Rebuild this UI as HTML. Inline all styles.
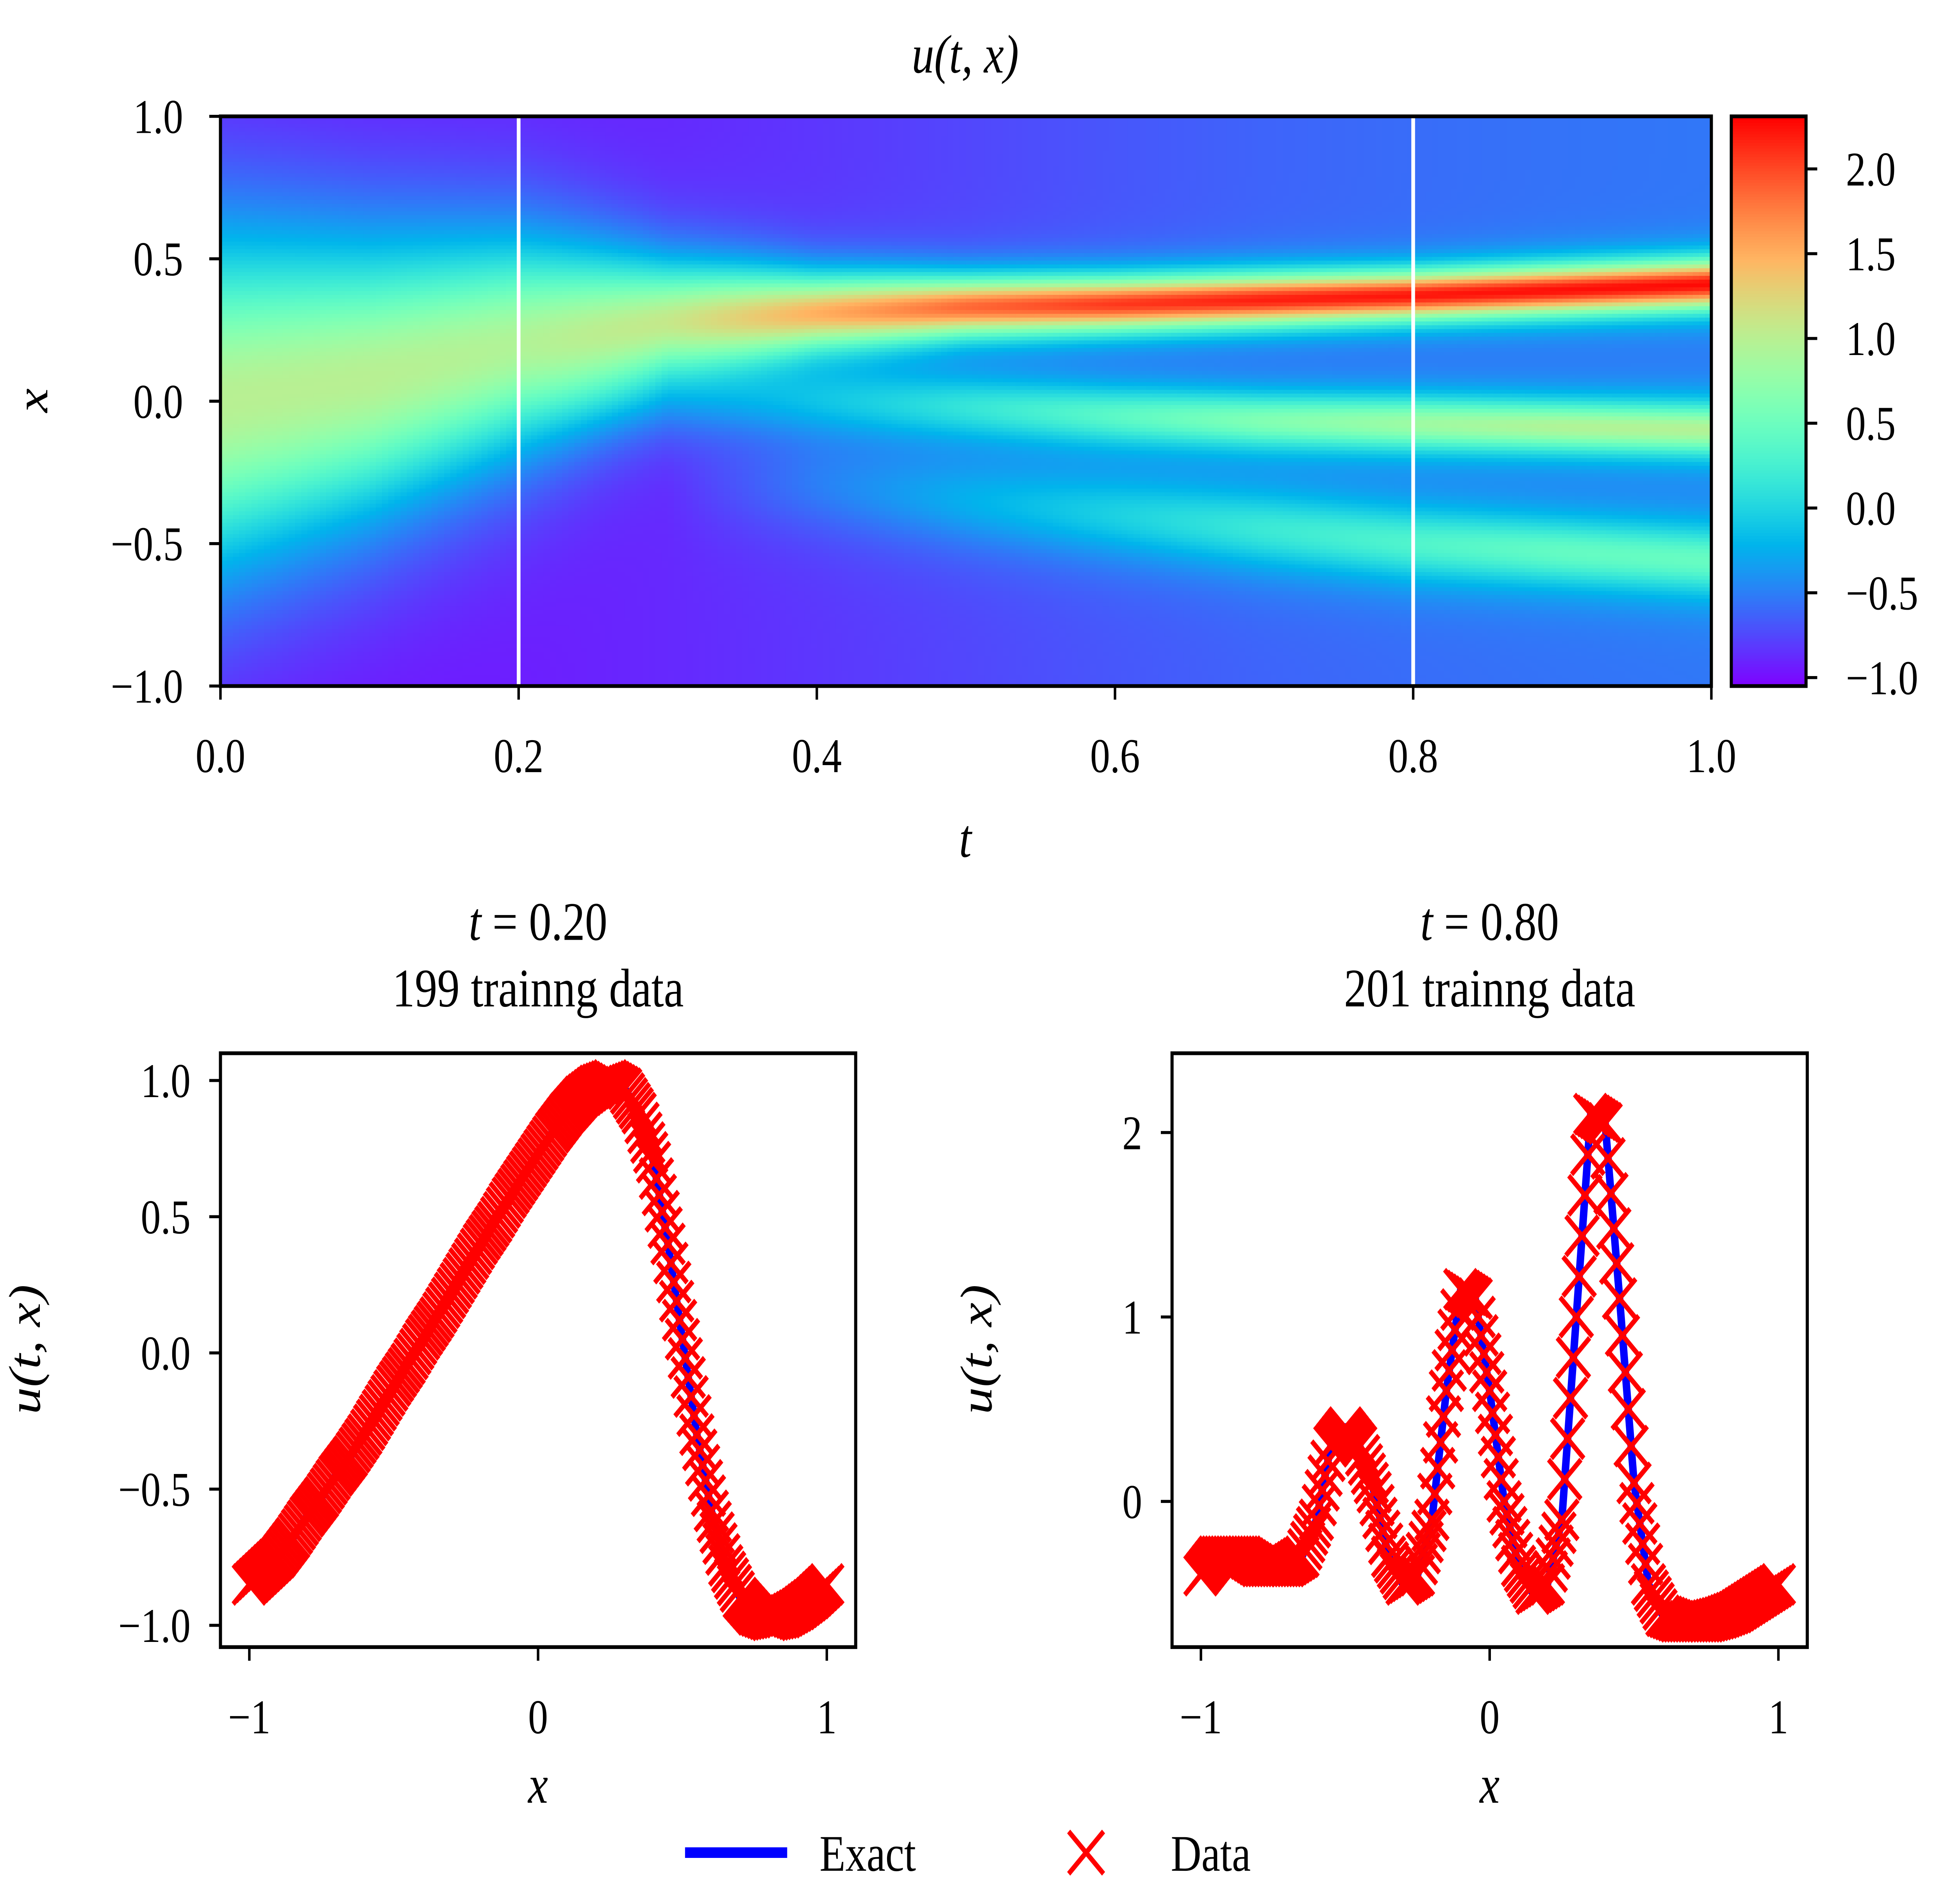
<!DOCTYPE html>
<html><head><meta charset="utf-8"><style>
html,body{margin:0;padding:0;background:#fff;overflow:hidden;width:100%;height:100%;}
svg{display:block;width:100%;height:100%;}
text{font-family:"Liberation Serif",serif;fill:#000;}
</style></head><body>
<svg id="fig" xmlns="http://www.w3.org/2000/svg" width="100%" height="100%" viewBox="0 0 1568 1260" preserveAspectRatio="none">
<rect x="0" y="0" width="1568" height="1260" fill="#fff"/>
<g id="heat"></g>
<g id="cbar"></g>
<g id="topaxes"></g>
<g id="left"></g>
<g id="right"></g>
<g id="legend">
  <line x1="550" y1="1226" x2="632" y2="1226" stroke="#0000ff" stroke-width="7"/>
  <text x="658" y="1238" font-size="34">Exact</text>
  <g stroke="#ff0000" stroke-width="3.5">
    <line x1="858" y1="1212" x2="886" y2="1240"/><line x1="858" y1="1240" x2="886" y2="1212"/>
  </g>
  <text x="940" y="1238" font-size="34">Data</text>
</g>
</svg>
<script>
// ---- data ----
const ridgeTimes = [0,0.1,0.2,0.3,0.4,0.5,0.6,0.7,0.8,0.9,1.0];
const baseline  = [-1.0,-0.97,-0.93,-0.88,-0.82,-0.75,-0.68,-0.62,-0.58,-0.55,-0.53];
const r1Center = [0.0,0.08,0.2,0.28,0.31,0.33,0.34,0.355,0.37,0.39,0.41];
const r1Amp    = [2.0,1.97,1.88,1.95,2.3,2.6,2.75,2.8,2.8,2.8,2.8];
const r1Width  = [0.55,0.45,0.35,0.2,0.13,0.1,0.09,0.085,0.08,0.08,0.08];
const r2Center = [0,0,0,0,0,-0.02,-0.05,-0.07,-0.08,-0.09,-0.1];
const r2Amp    = [0,0,0,0.2,0.6,0.85,1.05,1.25,1.4,1.5,1.5];
const r2Width  = [0.14,0.14,0.14,0.14,0.13,0.12,0.11,0.1,0.095,0.09,0.09];
const r3Center = [-0.3,-0.3,-0.3,-0.3,-0.3,-0.35,-0.4,-0.45,-0.5,-0.53,-0.56];
const r3Amp    = [0,0,0,0,0.3,0.5,0.65,0.8,0.9,1.0,1.0];
const r3Width  = [0.17,0.17,0.17,0.17,0.17,0.16,0.15,0.14,0.13,0.12,0.12];
const snapTimes = [0.2, 0.8];
const profX = [-1,-0.95,-0.9,-0.85,-0.8,-0.75,-0.7,-0.65,-0.6,-0.55,-0.5,-0.45,-0.4,-0.35,-0.3,-0.25,-0.2,-0.15,-0.1,-0.05,0,0.05,0.1,0.15,0.2,0.25,0.3,0.35,0.4,0.45,0.5,0.55,0.6,0.65,0.7,0.75,0.8,0.85,0.9,0.95,1.0];
const exact02 = [-0.85,-0.8,-0.75,-0.68,-0.6,-0.53,-0.45,-0.38,-0.3,-0.21,-0.12,-0.04,0.05,0.13,0.22,0.31,0.4,0.48,0.57,0.65,0.73,0.81,0.88,0.94,0.98,1.0,0.97,0.88,0.7,0.4,0.05,-0.3,-0.58,-0.78,-0.9,-0.96,-0.98,-0.97,-0.94,-0.9,-0.85];
const exact08 = [-0.4,-0.3,-0.3,-0.3,-0.35,-0.35,-0.35,-0.3,-0.1,0.3,0.4,0.3,0.05,-0.3,-0.45,-0.4,-0.1,0.6,1.15,1.1,0.6,0.0,-0.35,-0.5,-0.45,-0.1,1.0,2.1,2.05,1.1,0.1,-0.45,-0.62,-0.65,-0.65,-0.65,-0.63,-0.6,-0.55,-0.5,-0.45];
const topXTicks = [0.0,0.2,0.4,0.6,0.8,1.0];
const topYTicks = [1.0,0.5,0.0,-0.5,-1.0];
const cbarTicks = [2.0,1.5,1.0,0.5,0.0,-0.5,-1.0];
const leftYTicks = [1.0,0.5,0.0,-0.5,-1.0];
const rightYTicks = [2,1,0];
const bottomXTicks = [-1,0,1];

const NS="http://www.w3.org/2000/svg";
function mk(parent,tag,attrs){const e=document.createElementNS(NS,tag);for(const k in attrs)e.setAttribute(k,attrs[k]);parent.appendChild(e);return e;}
function fmt(v,d){const s=Math.abs(v).toFixed(d);return (v<0?"\u2212":"")+s;}
function interp(xs,ys,x){if(x<=xs[0])return ys[0];for(let i=1;i<xs.length;i++){if(x<=xs[i]){const f=(x-xs[i-1])/(xs[i]-xs[i-1]);return ys[i-1]+f*(ys[i]-ys[i-1]);}}return ys[ys.length-1];}
function sech2(z){const c=Math.cosh(z);return 1/(c*c);}
function field(t,x){
  const p=a=>interp(ridgeTimes,a,t);
  return p(baseline)+p(r1Amp)*sech2((x-p(r1Center))/p(r1Width))+p(r2Amp)*sech2((x-p(r2Center))/p(r2Width))+p(r3Amp)*sech2((x-p(r3Center))/p(r3Width));
}
const VMIN=-1.05,VMAX=2.31;
function rainbow(v){let s=(v-VMIN)/(VMAX-VMIN);s=Math.max(0,Math.min(1,s));
  const r=Math.min(1,Math.abs(2*s-0.5)),g=Math.sin(Math.PI*s),b=Math.cos(Math.PI*s/2);
  return `rgb(${Math.round(r*255)},${Math.round(g*255)},${Math.round(b*255)})`;}

// ---- top heatmap ----
const H={x0:177,x1:1374,y0:77,y1:454};
const tx=t=>H.x0+(H.x1-H.x0)*t, xy=x=>H.y1-(H.y1-H.y0)*(x+1)/2;
const heat=document.getElementById('heat');
const NT=240,NX=150,cw=(H.x1-H.x0)/NT,ch=(H.y1-H.y0)/NX;
for(let i=0;i<NT;i++)for(let j=0;j<NX;j++){
  const t=(i+0.5)/NT,x=1-2*(j+0.5)/NX;
  const r=mk(heat,'rect',{x:tx(i/NT),y:H.y0+j*ch,width:cw+0.6,height:ch+0.6,fill:rainbow(field(t,x))});
  
  
}
const topG=document.getElementById('topaxes');
snapTimes.forEach(t=>{const l=mk(topG,'line',{x1:tx(t),x2:tx(t),y1:H.y0,y2:H.y1,stroke:'#fff','stroke-width':3});
  
  });
const fr=mk(topG,'rect',{x:H.x0,y:H.y0,width:H.x1-H.x0,height:H.y1-H.y0,fill:'none',stroke:'#000','stroke-width':2.5});


topXTicks.forEach(v=>{mk(topG,'line',{x1:tx(v),x2:tx(v),y1:H.y1,y2:H.y1+9,stroke:'#000','stroke-width':2});
  const tt=mk(topG,'text',{x:tx(v),y:H.y1+57,'font-size':32,'text-anchor':'middle'});tt.textContent=fmt(v,1);
  
  });
topYTicks.forEach(v=>{mk(topG,'line',{x1:H.x0-9,x2:H.x0,y1:xy(v),y2:xy(v),stroke:'#000','stroke-width':2});
  const tt=mk(topG,'text',{x:H.x0-30,y:xy(v)+11,'font-size':32,'text-anchor':'end'});tt.textContent=fmt(v,1);
  
  });
let tl=mk(topG,'text',{x:775,y:48,'font-size':36,'text-anchor':'middle','font-style':'italic'});tl.textContent='u(t, x)';


tl=mk(topG,'text',{x:775,y:567,'font-size':36,'text-anchor':'middle','font-style':'italic'});tl.textContent='t';


tl=mk(topG,'text',{x:0,y:0,'font-size':36,'text-anchor':'middle','font-style':'italic',transform:'translate(38,265) rotate(-90)'});tl.textContent='x';



// ---- colorbar ----
const C={x0:1390,x1:1450,y0:77,y1:454};
const cy=v=>C.y1-(C.y1-C.y0)*(v-VMIN)/(VMAX-VMIN);
const cb=document.getElementById('cbar');
for(let k=0;k<200;k++){const v=VMIN+(VMAX-VMIN)*(k+0.5)/200;
  const r=mk(cb,'rect',{x:C.x0,y:cy(VMIN+(VMAX-VMIN)*(k+1)/200),width:C.x1-C.x0,height:(C.y1-C.y0)/200+0.6,fill:rainbow(v)});
  
  }
mk(cb,'rect',{x:C.x0,y:C.y0,width:C.x1-C.x0,height:C.y1-C.y0,fill:'none',stroke:'#000','stroke-width':2.5});
cbarTicks.forEach(v=>{mk(cb,'line',{x1:C.x1,x2:C.x1+9,y1:cy(v),y2:cy(v),stroke:'#000','stroke-width':2});
  const tt=mk(cb,'text',{x:C.x1+32,y:cy(v)+11,'font-size':32});tt.textContent=fmt(v,1);
  
  });

// ---- bottom panels ----
function panel(id,P,ymin,ymax,yTicks,yDec,ys,title1,title2){
  const g=document.getElementById(id);
  const px=x=>P.x0+(P.x1-P.x0)*(x+1.1)/2.2;
  const py=y=>P.y1-(P.y1-P.y0)*(y-ymin)/(ymax-ymin);
  const clip=mk(g,'clipPath',{id:id+'clip'});mk(clip,'rect',{x:P.x0,y:P.y0,width:P.x1-P.x0,height:P.y1-P.y0});
  const inner=mk(g,'g',{'clip-path':`url(#${id}clip)`});
  let d='';profX.forEach((x,i)=>{d+=(i?'L':'M')+px(x).toFixed(2)+','+py(ys[i]).toFixed(2);});
  const ln=mk(inner,'path',{d:d,fill:'none',stroke:'#0000ff','stroke-width':6,'stroke-linejoin':'round'});
  
  
  const mg=mk(inner,'g',{stroke:'#ff0000','stroke-width':3.5,fill:'none'});
  for(let k=0;k<=200;k++){const x=-1+k*0.01,y=interp(profX,ys,x),X=px(x),Y=py(y),s=13;
    const m=mk(mg,'path',{d:`M${X-s},${Y-s}L${X+s},${Y+s}M${X-s},${Y+s}L${X+s},${Y-s}`});
    
    }
  mk(g,'rect',{x:P.x0,y:P.y0,width:P.x1-P.x0,height:P.y1-P.y0,fill:'none',stroke:'#000','stroke-width':2.5});
  bottomXTicks.forEach(v=>{mk(g,'line',{x1:px(v),x2:px(v),y1:P.y1,y2:P.y1+9,stroke:'#000','stroke-width':2});
    const tt=mk(g,'text',{x:px(v),y:P.y1+57,'font-size':32,'text-anchor':'middle'});tt.textContent=fmt(v,0);
    
    });
  yTicks.forEach(v=>{mk(g,'line',{x1:P.x0-9,x2:P.x0,y1:py(v),y2:py(v),stroke:'#000','stroke-width':2});
    const tt=mk(g,'text',{x:P.x0-24,y:py(v)+11,'font-size':32,'text-anchor':'end'});tt.textContent=fmt(v,yDec);
    
    });
  const cx=(P.x0+P.x1)/2;
  let t=mk(g,'text',{x:cx,y:1193,'font-size':36,'text-anchor':'middle','font-style':'italic'});t.textContent='x';
  
  
  t=mk(g,'text',{x:0,y:0,'font-size':36,'text-anchor':'middle','font-style':'italic',transform:`translate(${P.x0-145},893) rotate(-90)`});t.textContent='u(t, x)';
  
  
  t=mk(g,'text',{x:cx,y:622,'font-size':36,'text-anchor':'middle'});
  const ti=mk(t,'tspan',{'font-style':'italic'});ti.textContent='t';
  const tr=mk(t,'tspan',{});tr.textContent=' = '+title1;
  
  
  t=mk(g,'text',{x:cx,y:666,'font-size':36,'text-anchor':'middle'});t.textContent=title2;
  
  
}
panel('left',{x0:177,x1:687,y0:697,y1:1090},-1.08,1.1,leftYTicks,1,exact02,'0.20','199 trainng data');
panel('right',{x0:941,x1:1451,y0:697,y1:1090},-0.79,2.43,rightYTicks,0,exact08,'0.80','201 trainng data');
</script>
</body></html>
